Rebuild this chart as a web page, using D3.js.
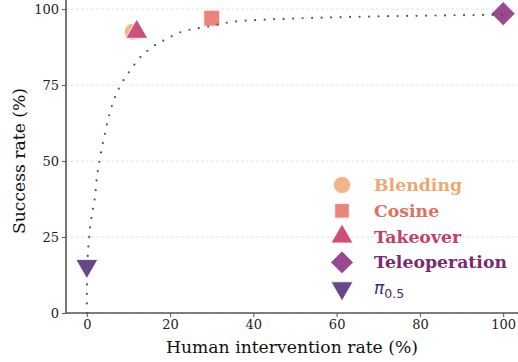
<!DOCTYPE html>
<html>
<head>
<meta charset="utf-8">
<script src="https://cdn.jsdelivr.net/npm/d3@7"></script>
<style>
body { margin: 0; background: #fff; }
svg { display: block; }
</style>
</head>
<body>
<svg id="chart" width="518" height="362"></svg>
<script>
// methods and their measured (intervention %, success %)
var methods = ["Blending", "Cosine", "Takeover", "Teleoperation", "pi05"];
var interventionRate = [11, 30, 12, 100, 0];
var successRate = [92.5, 97, 92.5, 98.5, 15.5];
var markerColor = ["#f2b48a", "#ec8478", "#cd5078", "#98498f", "#674788"];
var labelColor = ["#eda873", "#e2705f", "#c0416b", "#7a2a6f", "#4a2a6c"];
var markerShape = ["circle", "square", "up", "diamond", "down"];

// trend curve
var curveX = [0, 0.05, 0.3, 0.5, 0.7, 1.0, 1.4, 1.8, 2.1, 2.3, 2.6, 3.0, 3.4, 3.9, 4.4, 4.9, 5.5, 6.2, 7.0, 8.1, 9.3, 10.7, 12.1, 13.8, 15.6, 19.8, 21.8, 29, 35, 41, 50, 60, 70, 80, 90, 100];
var curveY = [0, 12, 20.5, 23.8, 27.1, 30.4, 33.6, 36.8, 39.9, 43.2, 46.4, 49.7, 52.9, 56.2, 59.4, 62.6, 65.7, 68.9, 71.9, 74.9, 77.7, 80.3, 83.0, 85.4, 87.4, 90.6, 92.0, 94.2, 95.8, 96.4, 96.9, 97.3, 97.6, 97.8, 98.0, 98.1];

var xTicks = [0, 20, 40, 60, 80, 100];
var yTicks = [0, 25, 50, 75, 100];

var svg = d3.select("#chart");
var serif = "DejaVu Serif, serif";

var x = d3.scaleLinear().domain([-5, 105]).range([66, 524]);
var y = d3.scaleLinear().domain([0, 102]).range([313, 3]);

// grid
svg.append("g")
  .selectAll("line")
  .data(yTicks)
  .enter()
  .append("line")
  .attr("x1", 66)
  .attr("x2", 518)
  .attr("y1", d => y(d))
  .attr("y2", d => y(d))
  .attr("stroke", "#dcdcdc")
  .attr("stroke-width", 0.8)
  .attr("stroke-dasharray", "3,2");

// axes
var xAxis = svg.append("g")
  .attr("transform", "translate(0,313)")
  .call(d3.axisBottom(x).tickValues(xTicks).tickSize(4).tickPadding(3));
var yAxis = svg.append("g")
  .attr("transform", "translate(66,0)")
  .call(d3.axisLeft(y).tickValues(yTicks).tickSize(4).tickPadding(3));

[xAxis, yAxis].forEach(function (a) {
  a.select(".domain").attr("stroke", "#555").attr("stroke-width", 1.6);
  a.selectAll(".tick line").attr("stroke", "#555").attr("stroke-width", 1);
  a.selectAll(".tick text").attr("fill", "#222").style("font-family", serif).style("font-size", "13px");
});
xAxis.select(".domain").attr("d", "M66,0H518");
yAxis.select(".domain").attr("d", "M0,313V0");

// markers
var data = methods.map((m, i) => ({ name: m, x: interventionRate[i], y: successRate[i], i: i }));

function symbolPath(i, size) {
  var s = markerShape[i];
  if (s === "circle") return d3.symbol(d3.symbolCircle, size)();
  if (s === "square" || s === "diamond") return d3.symbol(d3.symbolSquare, size)();
  return d3.symbol(d3.symbolTriangle, size)();
}
function symbolTurn(i) {
  if (markerShape[i] === "down") return " rotate(180)";
  if (markerShape[i] === "diamond") return " rotate(45)";
  return "";
}
var plotSize = [220, 250, 210, 290, 210];

svg.append("g")
  .selectAll("path")
  .data(data)
  .enter()
  .append("path")
  .attr("d", d => symbolPath(d.i, plotSize[d.i]))
  .attr("transform", d => "translate(" + x(d.x) + "," + y(d.y) + ")" + symbolTurn(d.i))
  .attr("fill", d => markerColor[d.i])
  .attr("stroke", "#fff")
  .attr("stroke-width", 0.8);

// dotted trend curve
var line = d3.line()
  .x(d => x(d[0]))
  .y(d => y(d[1]))
  .curve(d3.curveMonotoneX);

svg.append("path")
  .datum(curveX.map((v, i) => [v, curveY[i]]))
  .attr("d", line)
  .attr("fill", "none")
  .attr("stroke", "#555")
  .attr("stroke-width", 2.2)
  .attr("stroke-linecap", "round")
  .attr("stroke-dasharray", "0,9.5");

// legend
var legend = svg.append("g").attr("transform", "translate(342,185)");
var legendSize = [230, 210, 210, 260, 210];
var rows = legend.selectAll("g")
  .data(data)
  .enter()
  .append("g")
  .attr("transform", (d, i) => "translate(0," + i * 25.8 + ")");

rows.append("path")
  .attr("d", d => symbolPath(d.i, legendSize[d.i]))
  .attr("transform", d => symbolTurn(d.i) || null)
  .attr("fill", d => markerColor[d.i])
  .attr("stroke", "#fff")
  .attr("stroke-width", 0.8);

rows.filter(d => d.name !== "pi05")
  .append("text")
  .attr("x", 32)
  .attr("y", 6)
  .attr("fill", d => labelColor[d.i])
  .style("font-family", serif)
  .style("font-weight", "bold")
  .style("font-size", "17.3px")
  .text(d => d.name);

var pi = rows.filter(d => d.name === "pi05")
  .append("text")
  .attr("x", 32)
  .attr("y", 6)
  .attr("fill", d => labelColor[d.i])
  .style("font-family", "DejaVu Sans, sans-serif")
  .style("font-size", "17px");
pi.append("tspan").style("font-style", "italic").text("π");
pi.append("tspan").attr("dy", 4).style("font-size", "12.5px").text("0.5");

// axis titles
svg.append("text")
  .attr("x", 292)
  .attr("y", 353)
  .attr("text-anchor", "middle")
  .attr("fill", "#111")
  .style("font-family", serif)
  .style("font-size", "17.2px")
  .text("Human intervention rate (%)");

svg.append("text")
  .attr("transform", "translate(25,161) rotate(-90)")
  .attr("text-anchor", "middle")
  .attr("fill", "#111")
  .style("font-family", serif)
  .style("font-size", "17.2px")
  .text("Success rate (%)");
</script>
</body>
</html>
